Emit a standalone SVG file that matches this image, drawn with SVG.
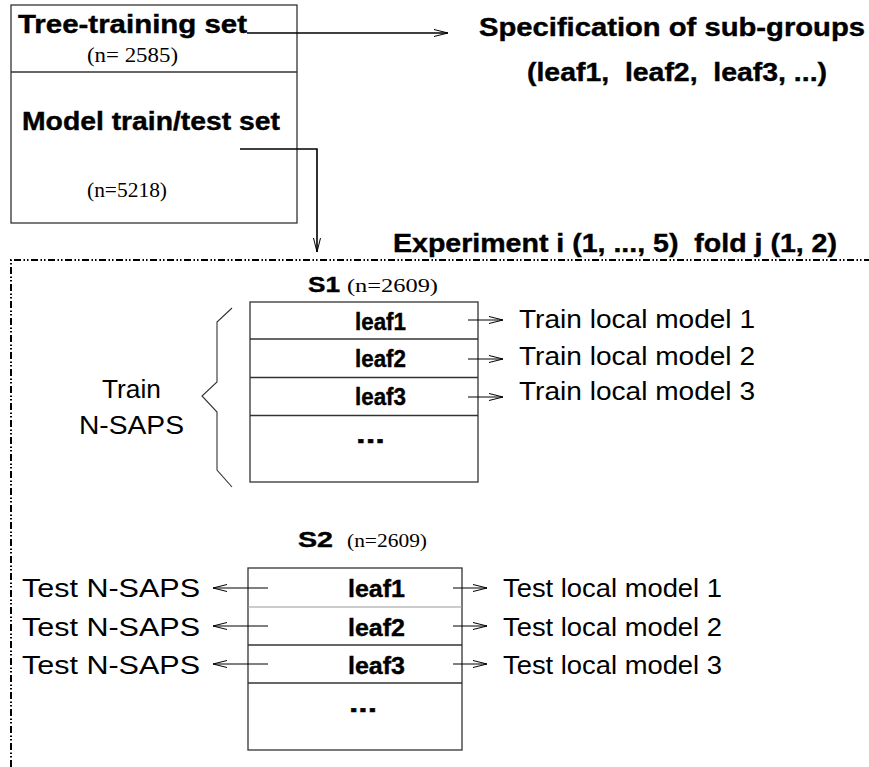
<svg xmlns="http://www.w3.org/2000/svg" width="869" height="767" viewBox="0 0 869 767">
<defs>
<style>
.b{font-family:"Liberation Sans",Arial,sans-serif;font-weight:bold;fill:#000;stroke:#000;stroke-width:0.4}
.r{font-family:"Liberation Sans",Arial,sans-serif;fill:#000}
.s{font-family:"Liberation Serif","Times New Roman",serif;fill:#000}
.box{fill:#fff;stroke:#333;stroke-width:1.3}
.div{stroke:#333;stroke-width:1.3}
.conn{fill:none;stroke:#000;stroke-width:1.6}
.thin{fill:none;stroke:#333;stroke-width:1.1}
.frame{fill:none;stroke:#000;stroke-width:2;stroke-dasharray:7 2.5 1.5 2 1.5 2.5}
</style>
<marker id="ah" viewBox="0 0 14 8" refX="14" refY="4" markerWidth="14" markerHeight="8" markerUnits="userSpaceOnUse" orient="auto">
<path d="M0,0.5 L14,4 L0,7.5" fill="none" stroke="#000" stroke-width="1"/>
</marker>
</defs>
<rect width="869" height="767" fill="#fff"/>

<g id="source-box">
<rect class="box" x="11" y="5" width="286" height="218"/>
<line class="div" x1="11" y1="72" x2="297" y2="72"/>
<text class="b" x="18" y="33" font-size="25" textLength="229" lengthAdjust="spacingAndGlyphs">Tree-training set</text>
<text class="s" x="87" y="62" font-size="20" textLength="91" lengthAdjust="spacingAndGlyphs">(n= 2585)</text>
<text class="b" x="22" y="130" font-size="25" textLength="258" lengthAdjust="spacingAndGlyphs">Model train/test set</text>
<text class="s" x="87" y="197" font-size="20" textLength="80" lengthAdjust="spacingAndGlyphs">(n=5218)</text>
</g>

<g id="subgroups">
<text class="b" x="479" y="36" font-size="25" textLength="386" lengthAdjust="spacingAndGlyphs">Specification of sub-groups</text>
<text class="b" x="527" y="81" font-size="25" textLength="300" lengthAdjust="spacingAndGlyphs" xml:space="preserve" style="white-space:pre">(leaf1,  leaf2,  leaf3, ...)</text>
</g>

<g id="experiment">
<path class="frame" d="M11,767 L11,260 L869,260"/>
<text class="b" x="393" y="252" font-size="25" textLength="444" lengthAdjust="spacingAndGlyphs" xml:space="preserve" style="white-space:pre">Experiment i (1, ..., 5)  fold j (1, 2)</text>
</g>

<g id="s1">
<text class="b" x="308" y="292" font-size="22" textLength="32" lengthAdjust="spacingAndGlyphs">S1</text>
<text class="s" x="347" y="292" font-size="19" textLength="91" lengthAdjust="spacingAndGlyphs">(n=2609)</text>
<rect class="box" x="250" y="302" width="228" height="180"/>
<line class="div" x1="250" y1="339" x2="478" y2="339"/>
<line class="div" x1="250" y1="377.5" x2="478" y2="377.5"/>
<line class="div" x1="250" y1="415.5" x2="478" y2="415.5"/>
<text class="b" x="355" y="330" font-size="24" textLength="51" lengthAdjust="spacingAndGlyphs">leaf1</text>
<text class="b" x="355" y="367" font-size="24" textLength="51" lengthAdjust="spacingAndGlyphs">leaf2</text>
<text class="b" x="355" y="405" font-size="24" textLength="51" lengthAdjust="spacingAndGlyphs">leaf3</text>
<text class="b" x="356" y="443" font-size="25" textLength="29" lengthAdjust="spacingAndGlyphs">...</text>
</g>

<g id="train-nsaps">
<path class="thin" d="M232,308 L217,322 L217,382 L202,396 L217,412 L217,470 L232,487"/>
<text class="r" x="102" y="398" font-size="26" textLength="59" lengthAdjust="spacingAndGlyphs">Train</text>
<text class="r" x="79" y="434" font-size="26" textLength="105" lengthAdjust="spacingAndGlyphs">N-SAPS</text>
</g>

<g id="train-models">
<text class="r" x="519" y="328" font-size="25" textLength="236" lengthAdjust="spacingAndGlyphs">Train local model 1</text>
<text class="r" x="519" y="365" font-size="25" textLength="236" lengthAdjust="spacingAndGlyphs">Train local model 2</text>
<text class="r" x="519" y="400" font-size="25" textLength="236" lengthAdjust="spacingAndGlyphs">Train local model 3</text>
</g>

<g id="s2">
<text class="b" x="298" y="547" font-size="22" textLength="35" lengthAdjust="spacingAndGlyphs">S2</text>
<text class="s" x="347" y="547" font-size="19" textLength="80" lengthAdjust="spacingAndGlyphs">(n=2609)</text>
<rect class="box" x="248" y="568" width="214" height="182"/>
<line x1="248" y1="607" x2="462" y2="607" stroke="#999" stroke-width="1"/>
<line class="div" x1="248" y1="645" x2="462" y2="645"/>
<line class="div" x1="248" y1="683" x2="462" y2="683"/>
<text class="b" x="348" y="597" font-size="24" textLength="57" lengthAdjust="spacingAndGlyphs">leaf1</text>
<text class="b" x="348" y="636" font-size="24" textLength="57" lengthAdjust="spacingAndGlyphs">leaf2</text>
<text class="b" x="348" y="674" font-size="24" textLength="57" lengthAdjust="spacingAndGlyphs">leaf3</text>
<text class="b" x="349" y="712" font-size="25" textLength="28" lengthAdjust="spacingAndGlyphs">...</text>
</g>

<g id="test-nsaps">
<text class="r" x="22" y="597" font-size="26" textLength="178" lengthAdjust="spacingAndGlyphs">Test N-SAPS</text>
<text class="r" x="22" y="636" font-size="26" textLength="178" lengthAdjust="spacingAndGlyphs">Test N-SAPS</text>
<text class="r" x="22" y="674" font-size="26" textLength="178" lengthAdjust="spacingAndGlyphs">Test N-SAPS</text>
</g>

<g id="test-models">
<text class="r" x="503" y="597" font-size="25" textLength="219" lengthAdjust="spacingAndGlyphs">Test local model 1</text>
<text class="r" x="503" y="636" font-size="25" textLength="219" lengthAdjust="spacingAndGlyphs">Test local model 2</text>
<text class="r" x="503" y="674" font-size="25" textLength="219" lengthAdjust="spacingAndGlyphs">Test local model 3</text>
</g>

<g id="connectors">
<line class="conn" x1="247" y1="33" x2="448" y2="33" marker-end="url(#ah)"/>
<polyline class="conn" points="240,149 317,149 317,252" marker-end="url(#ah)"/>
<g stroke="#000" stroke-width="1" fill="none">
<line x1="468" y1="320" x2="503" y2="320" marker-end="url(#ah)"/>
<line x1="468" y1="359" x2="503" y2="359" marker-end="url(#ah)"/>
<line x1="468" y1="397" x2="503" y2="397" marker-end="url(#ah)"/>
<line x1="453" y1="588" x2="487" y2="588" marker-end="url(#ah)"/>
<line x1="453" y1="626" x2="487" y2="626" marker-end="url(#ah)"/>
<line x1="453" y1="664" x2="487" y2="664" marker-end="url(#ah)"/>
<line x1="268" y1="588" x2="213" y2="588" marker-end="url(#ah)"/>
<line x1="268" y1="626" x2="213" y2="626" marker-end="url(#ah)"/>
<line x1="268" y1="664" x2="213" y2="664" marker-end="url(#ah)"/>
</g>
</g>
</svg>
